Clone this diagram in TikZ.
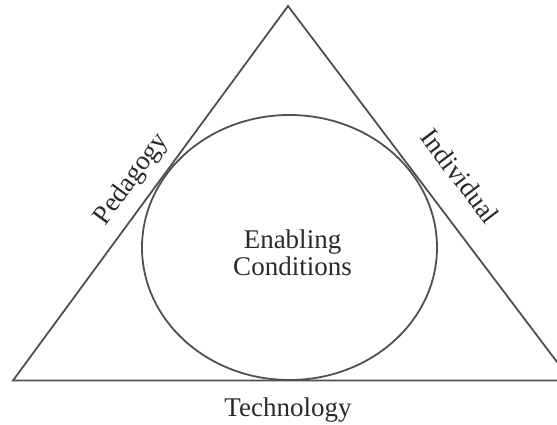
\documentclass[tikz,border=0pt]{standalone}
\usepackage{amsmath}
\usepackage{fontspec}
\setmainfont{Liberation Serif}
\usetikzlibrary{shapes.geometric}

\begin{document}
\begin{tikzpicture}[x=1pt,y=1pt]
    \definecolor{505050}{RGB}{80,80,80}
    \definecolor{2A2A2A}{RGB}{42,42,42}
    \tikzset{edge/.style={draw=505050,line width=1.8pt},
             lbl/.style={text=2A2A2A,font=\fontsize{27}{27}\selectfont,inner sep=1pt}}
    \useasboundingbox (0,0) rectangle (557,425);
    \coordinate (TRI_V-1) at (13,44.5);
    \coordinate (TRI_V-2) at (571,44.5);
    \coordinate (TRI_V-3) at (288,419);
    \draw [edge,line join=miter] (TRI_V-1) -- (TRI_V-2) -- (TRI_V-3) -- cycle;
    \node(ELL_C-1)[edge,ellipse,inner sep=0,minimum width=295,minimum height=265] at (289.5,177.5) {};
    \node(LBL_C-1)[lbl,align=center] at ([xshift=3pt,yshift=-5pt]ELL_C-1.center) {Enabling\\Conditions};
    \path (TRI_V-1) -- (TRI_V-3) node(LBL_S-1)[lbl,pos=0.50,sloped,above=10pt] {Pedagogy};
    \path (TRI_V-3) -- (TRI_V-2) node(LBL_S-2)[lbl,pos=0.51,sloped,above=24pt] {Individual};
    \node(LBL_S-3)[lbl] at (288,15) {Technology};
\end{tikzpicture}
\end{document}
